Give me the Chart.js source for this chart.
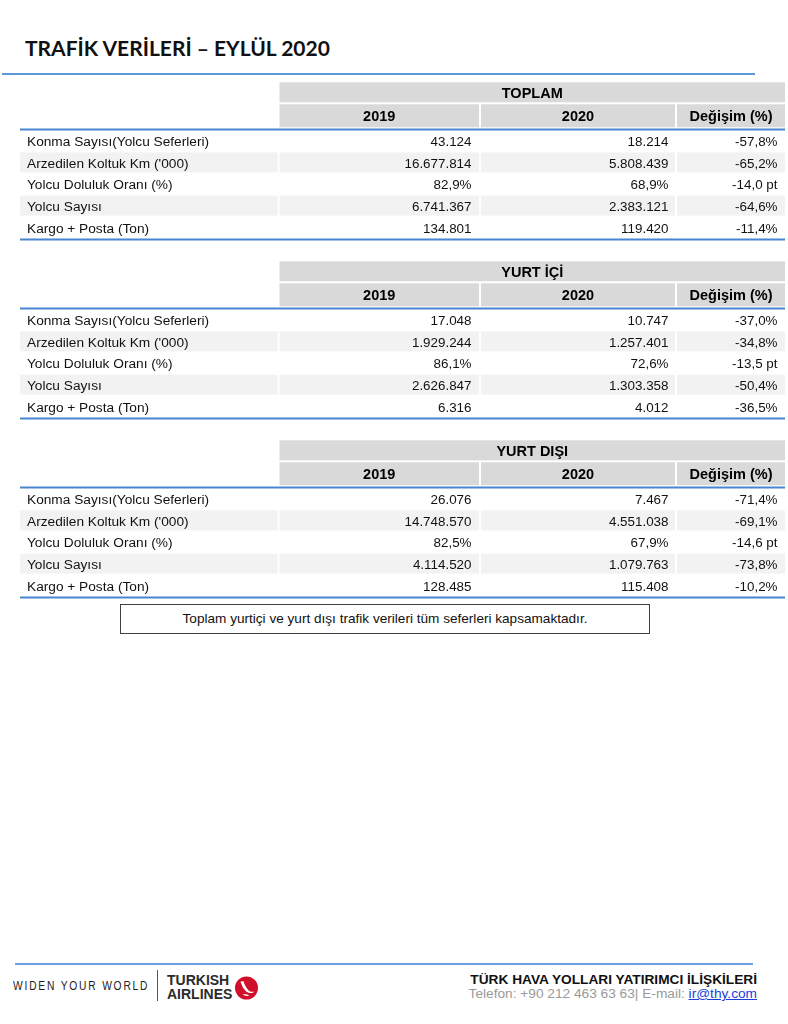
<!DOCTYPE html>
<html>
<head>
<meta charset="utf-8">
<script src="https://cdn.jsdelivr.net/npm/chart.js@4.4.1/dist/chart.umd.min.js"></script>
<style>
  html, body { margin: 0; padding: 0; background: #ffffff; }
  body { width: 788px; height: 1024px; position: relative; overflow: hidden;
         font-family: "Liberation Sans", Arial, sans-serif; color: #000; }
  .abs { position: absolute; white-space: nowrap; }
  #title { left: 25px; top: 36.5px; font-family: Lato, "Open Sans", sans-serif; font-weight: 700;
           font-size: 21px; line-height: 21px; color: #111; }
  .hline { position: absolute; }
  #note { left: 120px; top: 604px; width: 528px; height: 28px; border: 1px solid #404040;
          text-align: center; font-size: 13.6px; line-height: 28px; color: #111; }
  #widen { left: 13px; top: 980px; font-size: 12.5px; line-height: 12.5px; letter-spacing: 2.2px;
           color: #222; transform: scaleX(0.82); transform-origin: 0 0; }
  #divider { left: 157px; top: 970px; width: 1px; height: 31px; background: #555; }
  #brand { left: 167px; top: 974px; font-weight: 700; font-size: 14px; line-height: 13.5px; color: #2b2b2b; }
  #ir1 { right: 31px; top: 971.5px; font-weight: 700; font-size: 13.7px; line-height: 15px; color: #111; }
  #ir2 { right: 31px; top: 986px; font-size: 13.7px; line-height: 15px; color: #9a9a9a; }
  #ir2 a { color: #1a3fd8; text-decoration: underline; }
</style>
</head>
<body>

<div id="title" class="abs">TRAFİK VERİLERİ – EYLÜL 2020</div>
<div class="hline" style="left:2px; top:73px; width:753px; height:1.5px; background:#5f97dd;"></div>

<canvas id="table0" class="abs" width="788" height="165" style="left:0; top:78px;"></canvas>
<canvas id="table1" class="abs" width="788" height="165" style="left:0; top:257px;"></canvas>
<canvas id="table2" class="abs" width="788" height="165" style="left:0; top:436px;"></canvas>

<div id="note" class="abs">Toplam yurtiçi ve yurt dışı trafik verileri tüm seferleri kapsamaktadır.</div>

<div class="hline" style="left:15px; top:963px; width:738px; height:1.5px; background:#6a9fe0;"></div>
<div id="widen" class="abs">WIDEN YOUR WORLD</div>
<div id="divider" class="abs"></div>
<div id="brand" class="abs">TURKISH<br>AIRLINES</div>
<svg class="abs" style="left:234px; top:976px;" width="26" height="26" viewBox="0 0 26 26">
  <circle cx="12.5" cy="12" r="11.5" fill="#d0102a"/>
  <path d="M6.5 5.5 C8 10, 10 14.5, 14 16.5 C16.5 17.6, 19 17, 20.5 15.5 C18.5 16.2, 16 15.8, 14.5 14.2 C12 11.8, 10.5 8.5, 9.5 5.2 Z" fill="#ffffff"/>
  <path d="M8.5 18.5 C11 17.8, 13 18.3, 15.5 19.5 C13 20.2, 10.5 20, 8.5 18.5 Z" fill="#ffffff"/>
</svg>
<div id="ir1" class="abs">TÜRK HAVA YOLLARI YATIRIMCI İLİŞKİLERİ</div>
<div id="ir2" class="abs">Telefon: +90 212 463 63 63| E-mail: <a>ir@thy.com</a></div>

<script>
// ---------- DATA ----------
const rowLabels = [
  'Konma Sayısı(Yolcu Seferleri)',
  "Arzedilen Koltuk Km ('000)",
  'Yolcu Doluluk Oranı (%)',
  'Yolcu Sayısı',
  'Kargo + Posta (Ton)'
];
const rowKinds = ['count', 'count', 'rate', 'count', 'count'];
const columnLabels = ['2019', '2020', 'Değişim (%)'];
const groupTitles = ['TOPLAM', 'YURT İÇİ', 'YURT DIŞI'];

const toplam2019   = [43124, 16677814, 82.9, 6741367, 134801];
const toplam2020   = [18214, 5808439, 68.9, 2383121, 119420];
const toplamChange = [-57.8, -65.2, -14.0, -64.6, -11.4];

const yurtici2019   = [17048, 1929244, 86.1, 2626847, 6316];
const yurtici2020   = [10747, 1257401, 72.6, 1303358, 4012];
const yurticiChange = [-37.0, -34.8, -13.5, -50.4, -36.5];

const yurtdisi2019   = [26076, 14748570, 82.5, 4114520, 128485];
const yurtdisi2020   = [7467, 4551038, 67.9, 1079763, 115408];
const yurtdisiChange = [-71.4, -69.1, -14.6, -73.8, -10.2];

// ---------- FORMATTING ----------
function fmtInt(n) {
  const s = String(Math.round(Math.abs(n))).replace(/\B(?=(\d{3})+(?!\d))/g, '.');
  return (n < 0 ? '-' : '') + s;
}
function fmtDec(n) {
  return (n < 0 ? '-' : '') + Math.abs(n).toFixed(1).replace('.', ',');
}
function fmtCell(col, row, v) {
  const kind = rowKinds[row];
  if (col < 2) return kind === 'rate' ? fmtDec(v) + '%' : fmtInt(v);
  return kind === 'rate' ? fmtDec(v) + ' pt' : fmtDec(v) + '%';
}

// ---------- LAYOUT (styles only) ----------
const LAYOUT = {
  cellL: [20, 279.5, 481, 677],
  cellR: [277.5, 479, 675, 785],
  labelX: 27,
  anchorX: [471.5, 668.5, 777.5],
  labelFont: '13.7px "Liberation Sans", Arial, sans-serif',
  valueFont: '13.4px "Liberation Sans", Arial, sans-serif',
  bold: 'bold 14.5px "Liberation Sans", Arial, sans-serif',
  headGray: '#d9d9d9',
  altGray: '#f2f2f2',
  blue: '#4a86cf'
};

const tablePlugin = {
  id: 'tableCells',
  afterDatasetsDraw(chart, args, opts) {
    const ctx = chart.ctx, y = chart.scales.y, area = chart.chartArea;
    const band = y.getPixelForValue(1) - y.getPixelForValue(0);
    const L = LAYOUT;
    ctx.save();
    // group header band
    ctx.fillStyle = L.headGray;
    ctx.fillRect(L.cellL[1], area.top - 48.2, L.cellR[3] - L.cellL[1], 20);
    // column header bands
    for (let k = 1; k < 4; k++) {
      ctx.fillRect(L.cellL[k], area.top - 26.2, L.cellR[k] - L.cellL[k], 23);
    }
    // alternating rows
    ctx.fillStyle = L.altGray;
    chart.data.labels.forEach((lab, i) => {
      if (i % 2 === 1) {
        const yc = y.getPixelForValue(i);
        for (let k = 0; k < 4; k++) {
          ctx.fillRect(L.cellL[k], yc - band / 2 + 0.3, L.cellR[k] - L.cellL[k], band - 1.6);
        }
      }
    });
    // blue rules
    ctx.strokeStyle = L.blue;
    ctx.lineWidth = 2;
    ctx.beginPath();
    ctx.moveTo(L.cellL[0], area.top - 1); ctx.lineTo(L.cellR[3], area.top - 1);
    ctx.moveTo(L.cellL[0], area.bottom + 1); ctx.lineTo(L.cellR[3], area.bottom + 1);
    ctx.stroke();

    // header texts
    ctx.fillStyle = '#000';
    ctx.font = L.bold;
    ctx.textAlign = 'center';
    ctx.textBaseline = 'alphabetic';
    ctx.fillText(opts.title, (L.cellL[1] + L.cellR[3]) / 2, area.top - 38.2 + 5.3);
    chart.data.datasets.forEach((ds, k) => {
      ctx.fillText(ds.label, (L.cellL[k + 1] + L.cellR[k + 1]) / 2, area.top - 14.7 + 5.3);
    });

    // row labels and values
    chart.data.labels.forEach((lab, i) => {
      const yc = y.getPixelForValue(i) + 4.9;
      ctx.font = L.labelFont;
      ctx.textAlign = 'left';
      ctx.fillStyle = '#111';
      ctx.fillText(lab, L.labelX, yc);
      ctx.font = L.valueFont;
      ctx.textAlign = 'right';
      chart.data.datasets.forEach((ds, k) => {
        ctx.fillText(fmtCell(k, i, ds.data[i]), L.anchorX[k], yc);
      });
    });
    ctx.restore();
  }
};

function makeTable(id, title, v19, v20, chg) {
  return new Chart(document.getElementById(id), {
    type: 'bar',
    data: {
      labels: rowLabels,
      datasets: [v19, v20, chg].map((vals, k) => ({
        label: columnLabels[k],
        data: vals,
        backgroundColor: 'rgba(0,0,0,0)',
        borderWidth: 0
      }))
    },
    options: {
      indexAxis: 'y',
      responsive: false,
      animation: false,
      devicePixelRatio: 1,
      events: [],
      layout: { padding: { top: 52.5, bottom: 4.5, left: 0, right: 0 } },
      scales: {
        x: { display: false },
        y: { display: false, offset: true }
      },
      plugins: {
        legend: { display: false },
        tooltip: { enabled: false },
        tableCells: { title: title }
      }
    },
    plugins: [tablePlugin]
  });
}

makeTable('table0', groupTitles[0], toplam2019, toplam2020, toplamChange);
makeTable('table1', groupTitles[1], yurtici2019, yurtici2020, yurticiChange);
makeTable('table2', groupTitles[2], yurtdisi2019, yurtdisi2020, yurtdisiChange);
</script>
</body>
</html>
